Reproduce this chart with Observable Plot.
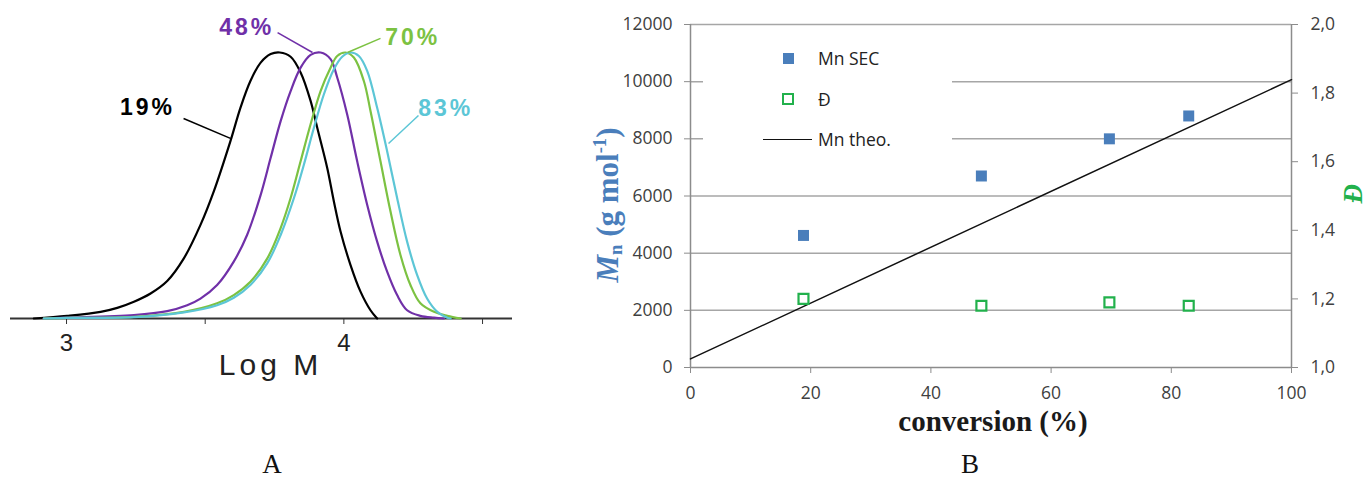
<!DOCTYPE html>
<html><head><meta charset="utf-8">
<script src="https://cdn.jsdelivr.net/npm/d3@7"></script>
<script src="https://cdn.jsdelivr.net/npm/@observablehq/plot@0.6"></script>
<style>
html,body{margin:0;padding:0;background:#fff}
#wrap{position:relative;width:1368px;height:479px;overflow:hidden;background:#fff}
#a,#b{position:absolute;top:0}
#a{left:0}
#b{left:560px}
.abs{position:absolute;white-space:nowrap}
.panel{font-family:"Liberation Serif","Times New Roman",serif;font-size:27px;color:#111;transform:translate(-50%,0)}
#ytitle{font-family:"Liberation Serif",serif;font-weight:bold;font-size:31px;color:#4a7ebb;line-height:1;transform:translate(-50%,-50%) rotate(-90deg)}
#ytitle sub{font-size:60%;vertical-align:-0.25em;line-height:0}
#ytitle sup{font-size:60%;vertical-align:0.6em;line-height:0}
#legend{position:absolute;left:703px;top:30px;width:249px;height:135px;background:#fff}
.lt{position:absolute;font-family:"Open Sans",sans-serif;font-size:17.5px;color:#222;line-height:20px;transform:translate(0,-50%)}
</style></head>
<body><div id="wrap"></div>
<script>
// ---------- Panel A: SEC traces (normalised) vs log M ----------
const logM19 = [2.882,3.002,3.123,3.183,3.243,3.303,3.363,3.423,3.483,3.531,3.591,3.627,3.663,3.700,3.736,3.769,3.808,3.844,3.880,3.904,3.940,3.964,3.988,4.024,4.060,4.096,4.120];
const h19    = [0,0.010,0.025,0.040,0.063,0.094,0.141,0.226,0.352,0.478,0.667,0.792,0.893,0.962,0.994,1.0,0.984,0.925,0.818,0.717,0.566,0.440,0.327,0.201,0.101,0.031,0];
const logM48 = [2.918,3.002,3.243,3.363,3.435,3.483,3.543,3.603,3.651,3.700,3.736,3.772,3.808,3.844,3.880,3.916,3.952,3.976,4.012,4.048,4.084,4.120,4.156,4.192,4.228,4.276,4.325,4.361];
const h48    = [0,0.003,0.013,0.028,0.050,0.075,0.126,0.214,0.314,0.465,0.604,0.742,0.855,0.943,0.991,1.0,0.975,0.906,0.767,0.591,0.428,0.289,0.176,0.088,0.031,0.010,0.003,0];
const logM70 = [2.918,3.002,3.243,3.423,3.543,3.603,3.663,3.724,3.772,3.808,3.844,3.880,3.916,3.952,3.976,4.006,4.036,4.072,4.096,4.132,4.168,4.204,4.240,4.276,4.325,4.373,4.421];
const h70    = [0,0.002,0.006,0.025,0.057,0.088,0.138,0.226,0.340,0.453,0.591,0.730,0.855,0.943,0.987,1.0,0.981,0.893,0.780,0.591,0.403,0.239,0.126,0.057,0.025,0.010,0];
const logM83 = [2.918,3.002,3.243,3.423,3.543,3.603,3.663,3.724,3.772,3.820,3.856,3.892,3.928,3.964,3.994,4.024,4.054,4.084,4.120,4.156,4.192,4.228,4.264,4.300,4.337,4.373,4.385];
const h83    = [0,0.002,0.005,0.023,0.050,0.078,0.126,0.208,0.314,0.453,0.579,0.717,0.843,0.937,0.984,1.0,0.987,0.931,0.792,0.629,0.453,0.289,0.164,0.075,0.025,0.003,0];
const seriesNames  = ["19%","48%","70%","83%"];
const seriesColors = ["#000000","#7030a8","#7cc242","#5cc6d6"];
const labelX  = [3.292,3.650,4.248,4.367];
const labelY  = [0.793,1.094,1.056,0.789];
const leadX1  = [3.422,3.761,4.132,4.269];
const leadY1  = [0.752,1.075,1.053,0.763];
const leadX2  = [3.591,3.887,4.013,4.161];
const leadY2  = [0.677,1.000,1.000,0.658];
const logMTicks = [3,3.5,4,4.5];

// ---------- Panel B: Mn and Đ vs conversion ----------
const conversion = [18.8,48.4,69.7,82.9];
const mnSEC      = [4620,6700,8000,8800];
const dispersity = [1.20,1.18,1.19,1.18];
const theoConv   = [0,100];
const theoMn     = [300,10070];
const mnTicks    = [0,2000,4000,6000,8000,10000,12000];
const convTicks  = [0,20,40,60,80,100];
const dTicks     = [1.0,1.2,1.4,1.6,1.8,2.0];

const wrap = document.getElementById("wrap");

// Panel A
const curves = [[logM19,h19],[logM48,h48],[logM70,h70],[logM83,h83]]
  .flatMap(([xs,ys],i)=>xs.map((x,j)=>({s:seriesNames[i],x,y:ys[j]})));
const labs = seriesNames.map((s,i)=>({s,x:labelX[i],y:labelY[i],x1:leadX1[i],y1:leadY1[i],x2:leadX2[i],y2:leadY2[i]}));
const colorScale = {domain:seriesNames, range:seriesColors};

const plotA = Plot.plot({
  width:540, height:400, marginLeft:10, marginRight:28, marginTop:52, marginBottom:82,
  x:{domain:[2.798,4.608]}, y:{domain:[0,1], axis:null},
  color: colorScale,
  style:{fontFamily:"Liberation Sans, Arial, sans-serif", fontSize:"23px", color:"#222", background:"transparent", overflow:"visible"},
  marks:[
    Plot.ruleY([0],{stroke:"#333",strokeWidth:1.8}),
    Plot.axisX({ticks:logMTicks, tickSize:6, tickPadding:9, fontSize:24, stroke:"#333", fill:"#222", tickFormat:d=>Number.isInteger(d)?String(d):"", label:null}),
    Plot.line(curves,{x:"x",y:"y",z:"s",stroke:"s",strokeWidth:2.2,curve:"catmull-rom"}),
    Plot.link(labs,{x1:"x1",y1:"y1",x2:"x2",y2:"y2",stroke:"s",strokeWidth:1.5}),
    Plot.text(labs,{x:"x",y:"y",text:"s",fill:"s",fontWeight:"bold",fontSize:23}),
    Plot.text(["Log M"],{frameAnchor:"bottom",dx:9,dy:56,fontSize:30,fill:"#222"})
  ]
});
plotA.id="a";
d3.select(plotA).selectAll("text").each(function(){
  const t=this.textContent;
  if (/%$/.test(t)) this.style.letterSpacing="3px";
  if (t==="Log M") this.style.letterSpacing="4px";
});
wrap.appendChild(plotA);

// Panel B
const toY = d => (d-1)*12000; // Đ axis 1.0–2.0 shares the Mn axis 0–12000
const sec  = conversion.map((c,i)=>({c,v:mnSEC[i]}));
const disp = conversion.map((c,i)=>({c,v:dispersity[i]}));
const theo = theoConv.map((c,i)=>({c,v:theoMn[i]}));

const plotB = Plot.plot({
  width:808, height:440, marginLeft:130, marginRight:77, marginTop:24, marginBottom:73,
  x:{domain:[0,100]}, y:{domain:[0,12000]},
  style:{fontFamily:"Open Sans, sans-serif", fontSize:"17.5px", color:"#404040", background:"transparent", overflow:"visible"},
  marks:[
    Plot.gridY(mnTicks.slice(1),{stroke:"#a6a6a6",strokeOpacity:1,strokeWidth:1.5}),
    Plot.ruleX([0,100],{stroke:"#8c8c8c",strokeWidth:1.5}),
    Plot.ruleY([0],{stroke:"#8c8c8c",strokeWidth:1.5}),
    Plot.axisY({ticks:mnTicks, tickSize:6, tickPadding:12, stroke:"#8c8c8c", fill:"#404040", tickFormat:d=>String(d), label:null}),
    Plot.axisY({anchor:"right", ticks:dTicks.map(toY), tickSize:6, tickPadding:13, stroke:"#8c8c8c", fill:"#404040",
      tickFormat:v=>(1+v/12000).toFixed(1).replace(".",","), label:null}),
    Plot.axisX({ticks:convTicks, tickSize:6, tickPadding:13, stroke:"#8c8c8c", fill:"#404040", tickFormat:d=>String(d), label:null}),
    Plot.line(theo,{x:"c",y:"v",stroke:"#111",strokeWidth:1.5}),
    Plot.dot(sec,{x:"c",y:"v",symbol:"square",r:6.2,fill:"#4a7ebb",stroke:"none"}),
    Plot.dot(disp,{x:"c",y:d=>toY(d.v),symbol:"square",r:5.6,fill:"#fff",stroke:"#22b14c",strokeWidth:2.2}),
    Plot.text(["conversion (%)"],{frameAnchor:"bottom",dx:2,dy:63,fontFamily:"Liberation Serif, serif",fontWeight:"bold",fontSize:29,fill:"#1a1a1a"}),
    Plot.text(["Đ"],{frameAnchor:"right",dx:62,dy:-12,rotate:-90,fontFamily:"Liberation Serif, serif",fontWeight:"bold",fontStyle:"italic",fontSize:27,fill:"#22b14c"})
  ]
});
plotB.id="b";
wrap.appendChild(plotB);

// legend (white box over the gridlines, as in the original)
const lg = document.createElement("div");
lg.id="legend";
lg.innerHTML = `
 <div class="abs" style="left:79.5px;top:22.5px;width:11px;height:11px;background:#4a7ebb"></div>
 <div class="lt" style="left:115px;top:28px">Mn SEC</div>
 <div class="abs" style="left:79px;top:63px;width:8px;height:8px;border:2.2px solid #22b14c;background:#fff"></div>
 <div class="lt" style="left:115px;top:69px">Đ</div>
 <div class="abs" style="left:60px;top:108.5px;width:49px;height:1.6px;background:#111"></div>
 <div class="lt" style="left:115px;top:109px">Mn theo.</div>`;
wrap.appendChild(lg);

const yt = document.createElement("div");
yt.id="ytitle"; yt.className="abs";
yt.style.left="607px"; yt.style.top="205px";
yt.innerHTML = `<i>M</i><sub>n</sub> (g mol<sup>-1</sup>)`;
wrap.appendChild(yt);

for (const [t,x] of [["A",272],["B",970]]) {
  const d = document.createElement("div");
  d.className="abs panel"; d.textContent=t;
  d.style.left=x+"px"; d.style.top="449px";
  wrap.appendChild(d);
}
</script>
</body></html>
